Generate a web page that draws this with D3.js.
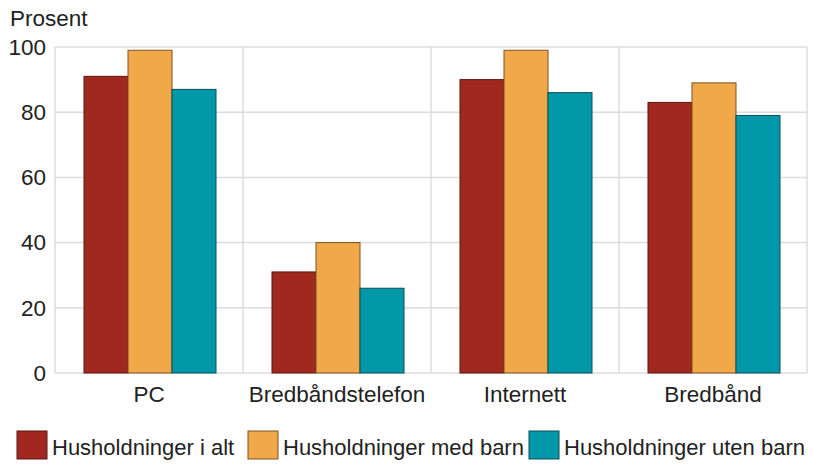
<!DOCTYPE html>
<html>
<head>
<meta charset="utf-8">
<script src="https://cdn.jsdelivr.net/npm/d3@7"></script>
<style>
  html, body { margin: 0; padding: 0; background: #fff; }
  svg { display: block; }
  text { font-family: "Liberation Sans", Arial, sans-serif; fill: #222; }
</style>
</head>
<body>
<svg id="chart" width="825" height="466"></svg>
<script>
// Andel husholdninger med tilgang, prosent
const categories = ["PC", "Bredbåndstelefon", "Internett", "Bredbånd"];
const seriesNames = ["Husholdninger i alt", "Husholdninger med barn", "Husholdninger uten barn"];
const alt = [91, 31, 90, 83];
const medBarn = [99, 40, 99, 89];
const utenBarn = [87, 26, 86, 79];
const yTicks = [0, 20, 40, 60, 80, 100];

const colors = ["#a0281f", "#f0a848", "#0097a9"];
const strokes = ["#5a1712", "#7a5224", "#0a4f57"];
const fontSize = "22.5px";
const legendFontSize = "22px";

const svg = d3.select("#chart");
const margin = { left: 55, right: 18, top: 47, bottom: 93 };
const width = 825, height = 466;
const x0 = margin.left, x1 = width - margin.right;
const yBottom = height - margin.bottom;

const x = d3.scaleBand().domain(categories).range([x0, x1]).paddingInner(0).paddingOuter(0);
const xs = d3.scaleBand().domain(seriesNames).range([29, 29 + 132]);
const y = d3.scaleLinear().domain([0, 100]).range([yBottom, margin.top]);

// grid
const grid = svg.append("g");
grid.selectAll("line.h").data(yTicks).join("line")
  .attr("x1", x0).attr("x2", x1)
  .attr("y1", d => y(d)).attr("y2", d => y(d))
  .attr("stroke", "#dcdce0").attr("stroke-width", 1.5);
const vlines = categories.map(c => x(c)).concat([x1]);
grid.selectAll("line.v").data(vlines).join("line")
  .attr("x1", d => d).attr("x2", d => d)
  .attr("y1", y(100)).attr("y2", yBottom)
  .attr("stroke", "#dcdce0").attr("stroke-width", 1.5);

// y axis labels
const yAxis = d3.axisLeft(y).tickValues(yTicks).tickSize(0).tickPadding(9);
const gy = svg.append("g").attr("transform", `translate(${x0},0)`).call(yAxis);
gy.select(".domain").remove();
gy.selectAll("text").style("font-size", fontSize).attr("fill", "#222")
  .style("font-family", "Liberation Sans, Arial, sans-serif");

// x axis labels
const xAxis = d3.axisBottom(x).tickSize(0).tickPadding(13);
const gx = svg.append("g").attr("transform", `translate(0,${yBottom})`).call(xAxis);
gx.select(".domain").remove();
gx.selectAll("text").style("font-size", fontSize).attr("fill", "#222")
  .style("font-family", "Liberation Sans, Arial, sans-serif");

// bars
const seriesData = [alt, medBarn, utenBarn];
seriesData.forEach((vals, si) => {
  svg.append("g").selectAll("rect").data(vals).join("rect")
    .attr("x", (d, i) => x(categories[i]) + xs(seriesNames[si]))
    .attr("y", d => y(d))
    .attr("width", xs.bandwidth())
    .attr("height", d => yBottom - y(d))
    .attr("fill", colors[si])
    .attr("stroke", strokes[si])
    .attr("stroke-width", 1);
});

// y title
svg.append("text").attr("x", 10).attr("y", 26).text("Prosent").style("font-size", fontSize);

// legend
const legendX = [17, 248, 529];
const lg = svg.append("g");
seriesNames.forEach((name, i) => {
  lg.append("rect").attr("x", legendX[i]).attr("y", 431).attr("width", 30).attr("height", 28)
    .attr("fill", colors[i]).attr("stroke", strokes[i]).attr("stroke-width", 1);
  lg.append("text").attr("x", legendX[i] + 35).attr("y", 455).text(name).style("font-size", legendFontSize);
});
</script>
</body>
</html>
